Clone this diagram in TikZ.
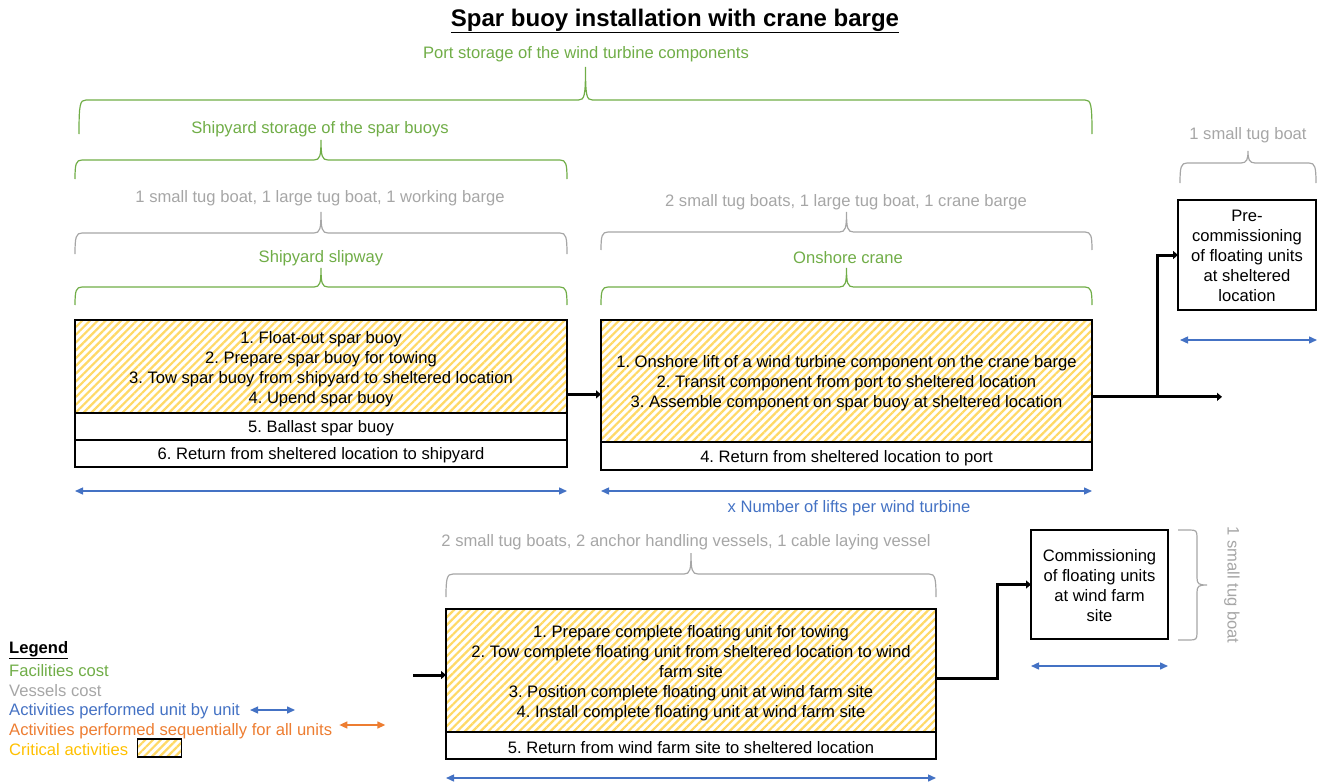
\documentclass[tikz,border=0pt]{standalone}
\usepackage{fontspec}
\setmainfont{Liberation Sans}
\usetikzlibrary{arrows.meta,patterns.meta,calc}
\frenchspacing

\definecolor{facgreen}{HTML}{70AD47}
\definecolor{vesgray}{HTML}{A6A6A6}
\definecolor{unitblue}{HTML}{4472C4}
\definecolor{seqorange}{HTML}{ED7D31}
\definecolor{critgold}{HTML}{FFC000}
\definecolor{hatchyellow}{HTML}{FFD966}

% horizontal curly brace opening downwards: style, left x, right x, tip y, bar y, end y
\newcommand{\curlybrace}[6]{%
  \draw[#1] (#2,#6) .. controls (#2,{#5+4}) and ({#2+1},#5) .. ({#2+7},#5)
    -- ({(#2+#3)/2-7},#5) .. controls ({(#2+#3)/2-1},#5) and ({(#2+#3)/2},{#5-4}) .. ({(#2+#3)/2},#4)
    .. controls ({(#2+#3)/2},{#5-4}) and ({(#2+#3)/2+1},#5) .. ({(#2+#3)/2+7},#5)
    -- ({#3-7},#5) .. controls ({#3-1},#5) and (#3,{#5+4}) .. (#3,#6);}

% centred block of lines inside a box, set slightly low
\newcommand{\boxlines}[1]{\raisebox{-2.5pt}[\height][\depth]{\begin{tabular}{@{}c@{}}#1\end{tabular}}}

\tikzset{
  txt/.style={font=\fontsize{16.6}{20}\selectfont, inner sep=0pt, align=center},
  lbl/.style={txt, execute at begin node={\rule{0pt}{16pt}}},
  heading/.style={font=\bfseries\fontsize{24}{28}\selectfont, inner sep=0pt},
  facility/.style={lbl, text=facgreen},
  vessel/.style={lbl, text=vesgray},
  note/.style={lbl, text=unitblue},
  legendtext/.style={lbl, anchor=west, align=left},
  facbrace/.style={draw=facgreen, line width=1.2pt},
  vesbrace/.style={draw=vesgray, line width=1.2pt},
  boxbase/.style={txt, draw=black, line width=1.3pt, outer sep=0pt},
  critbox/.style={boxbase, pattern={Lines[angle=45,distance=5.5pt,line width=2.2pt]}, pattern color=hatchyellow},
  rowbox/.style={boxbase, fill=white, execute at begin node={\rule{0pt}{16pt}}},
  plainbox/.style={boxbase, fill=white},
  flow/.style={line width=3pt, -{Triangle[length=5pt,width=8pt]}},
  unitspan/.style={draw=unitblue, line width=1.4pt, {Triangle[length=8pt,width=7pt]}-{Triangle[length=8pt,width=7pt]}},
  seqspan/.style={draw=seqorange, line width=1.4pt, {Triangle[length=8pt,width=7pt]}-{Triangle[length=8pt,width=7pt]}},
}

\begin{document}
\begin{tikzpicture}[x=1pt,y=-1pt]
\useasboundingbox (0,0) rectangle (1317,784);

% title
\node[heading] (ttl) at (675,21) {\underline{Spar buoy installation with crane barge}};

% facilities and vessels above the first two stages
\node[facility] (portlbl) at (586,52) {Port storage of the wind turbine components};
\curlybrace{facbrace}{79}{1092}{67}{100}{134}
\node[facility] (yardlbl) at (320,127) {Shipyard storage of the spar buoys};
\curlybrace{facbrace}{75}{567}{140}{160}{179}

\node[vessel] (ves1) at (320,196) {1 small tug boat, 1 large tug boat, 1 working barge};
\curlybrace{vesbrace}{75}{567}{212}{233}{254}
\node[facility] (slip) at (321,256) {Shipyard slipway};
\curlybrace{facbrace}{75}{567}{268}{287}{305}

\node[vessel] (ves2) at (846,200) {2 small tug boats, 1 large tug boat, 1 crane barge};
\curlybrace{vesbrace}{601}{1092}{212}{232}{250}
\node[facility] (crane) at (848,256) {Onshore crane};
\curlybrace{facbrace}{601}{1092}{268}{287}{305}

\node[vessel] (ves3) at (1248,133) {1 small tug boat};
\curlybrace{vesbrace}{1180}{1316}{151}{163}{183}

% stage 1: spar buoy
\node[critbox, minimum width=492pt, minimum height=93pt] (b1a) at (321,366.5)
  {\boxlines{1. Float-out spar buoy\\2. Prepare spar buoy for towing\\3. Tow spar buoy from shipyard to sheltered location\\4. Upend spar buoy}};
\node[rowbox, minimum width=492pt, minimum height=27pt, anchor=north] (b1b) at (b1a.south) {5. Ballast spar buoy};
\node[rowbox, minimum width=492pt, minimum height=27pt, anchor=north] (b1c) at (b1b.south) {6. Return from sheltered location to shipyard};

% stage 2: turbine components
\node[critbox, minimum width=491pt, minimum height=122pt] (b2a) at (846.5,381)
  {\boxlines{1. Onshore lift of a wind turbine component on the crane barge\\2. Transit component from port to sheltered location\\3. Assemble component on spar buoy at sheltered location}};
\node[rowbox, minimum width=491pt, minimum height=28pt, anchor=north] (b2b) at (b2a.south) {4. Return from sheltered location to port};

% pre-commissioning
\node[plainbox, minimum width=138pt, minimum height=110pt] (pre) at (1247,255)
  {\boxlines{Pre-\\commissioning\\of floating units\\at sheltered\\location}};

% flows of the upper row
\coordinate (f1) at ($(b1a.south east)!0.2!(b1a.north east)$);
\draw[flow] (f1) -- (f1 -| b2a.west);
\coordinate (f2) at ($(b2a.south east)!0.37!(b2a.north east)$);
\coordinate (f2end) at ($(f2)+(130,0)$);
\coordinate (f2split) at ($(f2)+(65,0)$);
\draw[flow] (f2) -- (f2end);
\draw[flow] (f2split) |- (pre.west);

% spans of the upper row
\draw[unitspan] ($(b1c.south west)+(0,24)$) -- ($(b1c.south east)+(0,24)$);
\draw[unitspan] ($(b2b.south west)+(0,21)$) -- ($(b2b.south east)+(0,21)$);
\node[note] (lifts) at (849,506) {x Number of lifts per wind turbine};
\draw[unitspan] ($(pre.south west)+(2,30)$) -- ($(pre.south east)+(1,30)$);

% stage 3: complete floating unit
\node[vessel] (ves4) at (686,540) {2 small tug boats, 2 anchor handling vessels, 1 cable laying vessel};
\curlybrace{vesbrace}{446}{936}{553}{574}{597}
\node[critbox, minimum width=490pt, minimum height=123pt] (b3a) at (691,670.5)
  {\boxlines{1. Prepare complete floating unit for towing\\2. Tow complete floating unit from sheltered location to wind\\farm site\\3. Position complete floating unit at wind farm site\\4. Install complete floating unit at wind farm site}};
\node[rowbox, minimum width=490pt, minimum height=27pt, anchor=north] (b3b) at (b3a.south) {5. Return from wind farm site to sheltered location};

% commissioning
\node[plainbox, minimum width=137pt, minimum height=109pt] (comm) at (1099.5,584.5)
  {\boxlines{Commissioning\\of floating units\\at wind farm\\site}};
\draw[vesbrace] (1178,530) -- (1190,530) .. controls (1196,530) and (1197,531) .. (1197,537)
  -- (1197,578) .. controls (1197,584) and (1199,585) .. (1207,585)
  .. controls (1199,585) and (1197,586) .. (1197,592)
  -- (1197,633) .. controls (1197,639) and (1196,640) .. (1190,640) -- (1178,640);
\node[vessel, rotate=-90] (ves5) at (1234,585) {1 small tug boat};

% flows of the lower row
\coordinate (f3in) at ($(b3a.west)+(-33,4.5)$);
\draw[flow] (f3in) -- (f3in -| b3a.west);
\coordinate (f3) at ($(b3a.east)+(0,7.5)$);
\draw[flow] (f3) -| ($(comm.west)+(-34,0)$) -- (comm.west);

% spans of the lower row
\draw[unitspan] ($(b3b.south west)+(0,19)$) -- ($(b3b.south east)+(0,19)$);
\draw[unitspan] ($(comm.south west)+(0,27)$) -- ($(comm.south east)+(0,27)$);

% legend
\node[legendtext] (lg0) at (9,648) {\underline{\textbf{Legend}}};
\node[legendtext, text=facgreen] (lg1) at (9,669) {Facilities cost};
\node[legendtext, text=vesgray] (lg2) at (9,689) {Vessels cost};
\node[legendtext, text=unitblue] (lg3) at (9,709) {Activities performed unit by unit};
\node[legendtext, text=seqorange] (lg4) at (9,729) {Activities performed sequentially for all units};
\node[legendtext, text=critgold] (lg5) at (9,748) {Critical activities};
\draw[unitspan] ($(lg3.east)+(10,1)$) -- ++(45,0);
\draw[seqspan] ($(lg4.east)+(7,-4)$) -- ++(46,0);
\node[critbox, minimum width=44pt, minimum height=18pt, anchor=west] (lg6) at ($(lg5.east)+(9,0)$) {};
\end{tikzpicture}
\end{document}
